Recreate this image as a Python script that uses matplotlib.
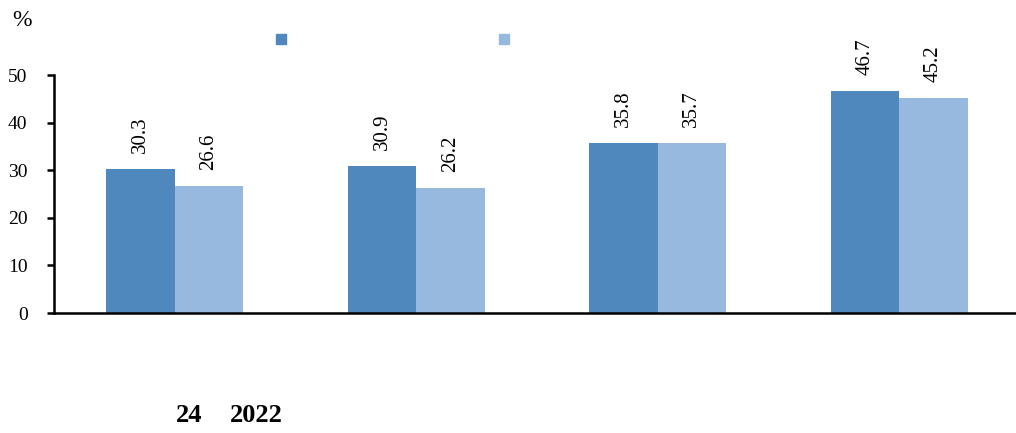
import matplotlib
matplotlib.use("Agg")
import matplotlib.pyplot as plt
import numpy as np

categories = ["", "", "", ""]
series_a = [30.3, 30.9, 35.8, 46.7]
series_b = [26.6, 26.2, 35.7, 45.2]
yticks = [0, 10, 20, 30, 40, 50]

plt.rcParams['font.family'] = ['Liberation Serif', 'DejaVu Serif']

W, H = 1016, 433
fig = plt.figure(figsize=(W/100, H/100), dpi=100)
ax = fig.add_axes([54/W, 1 - 313/H, 966/W, (313 - 75)/H])

dark = '#4F88BD'
light = '#97B9DF'
x = np.arange(len(categories))
bw = 0.283
ax.bar(x - bw/2, series_a, width=bw, color=dark, edgecolor='none')
ax.bar(x + bw/2, series_b, width=bw, color=light, edgecolor='none')

for xs, vals in ((x - bw/2, series_a), (x + bw/2, series_b)):
    for xi, v in zip(xs, vals):
        ax.annotate(f"{v:.1f}", (xi, v), xytext=(0, 11.5), textcoords='offset points',
                    rotation=90, ha='center', va='bottom', fontsize=15)

ax.set_xlim(-0.5, len(categories) - 0.5)
ax.set_ylim(0, 50)
ax.set_yticks(yticks)
ax.set_yticklabels([str(t) for t in yticks], fontsize=14)
ax.set_xticks([])
for s in ['top', 'right']:
    ax.spines[s].set_visible(False)
ax.spines['left'].set_linewidth(1.8)
ax.spines['bottom'].set_linewidth(1.8)
ax.tick_params(axis='y', direction='out', length=5, width=1.8, pad=14)

fig.text(12/W, 1 - 20/H, "%", fontsize=17, va='center', ha='left')

# legend markers (labels not rendered in original)
fig.patches.append(plt.Rectangle((276/W, 1 - 44/H), 10/W, 10/H, transform=fig.transFigure,
                                 color=dark, figure=fig))
fig.patches.append(plt.Rectangle((499/W, 1 - 44/H), 10/W, 10/H, transform=fig.transFigure,
                                 color=light, figure=fig))

fig.text(176/W, 1 - 415/H, "24", fontsize=19, fontweight='bold', va='center', ha='left')
fig.text(230/W, 1 - 415/H, "2022", fontsize=19, fontweight='bold', va='center', ha='left')

fig.savefig("out.png", dpi=100)
